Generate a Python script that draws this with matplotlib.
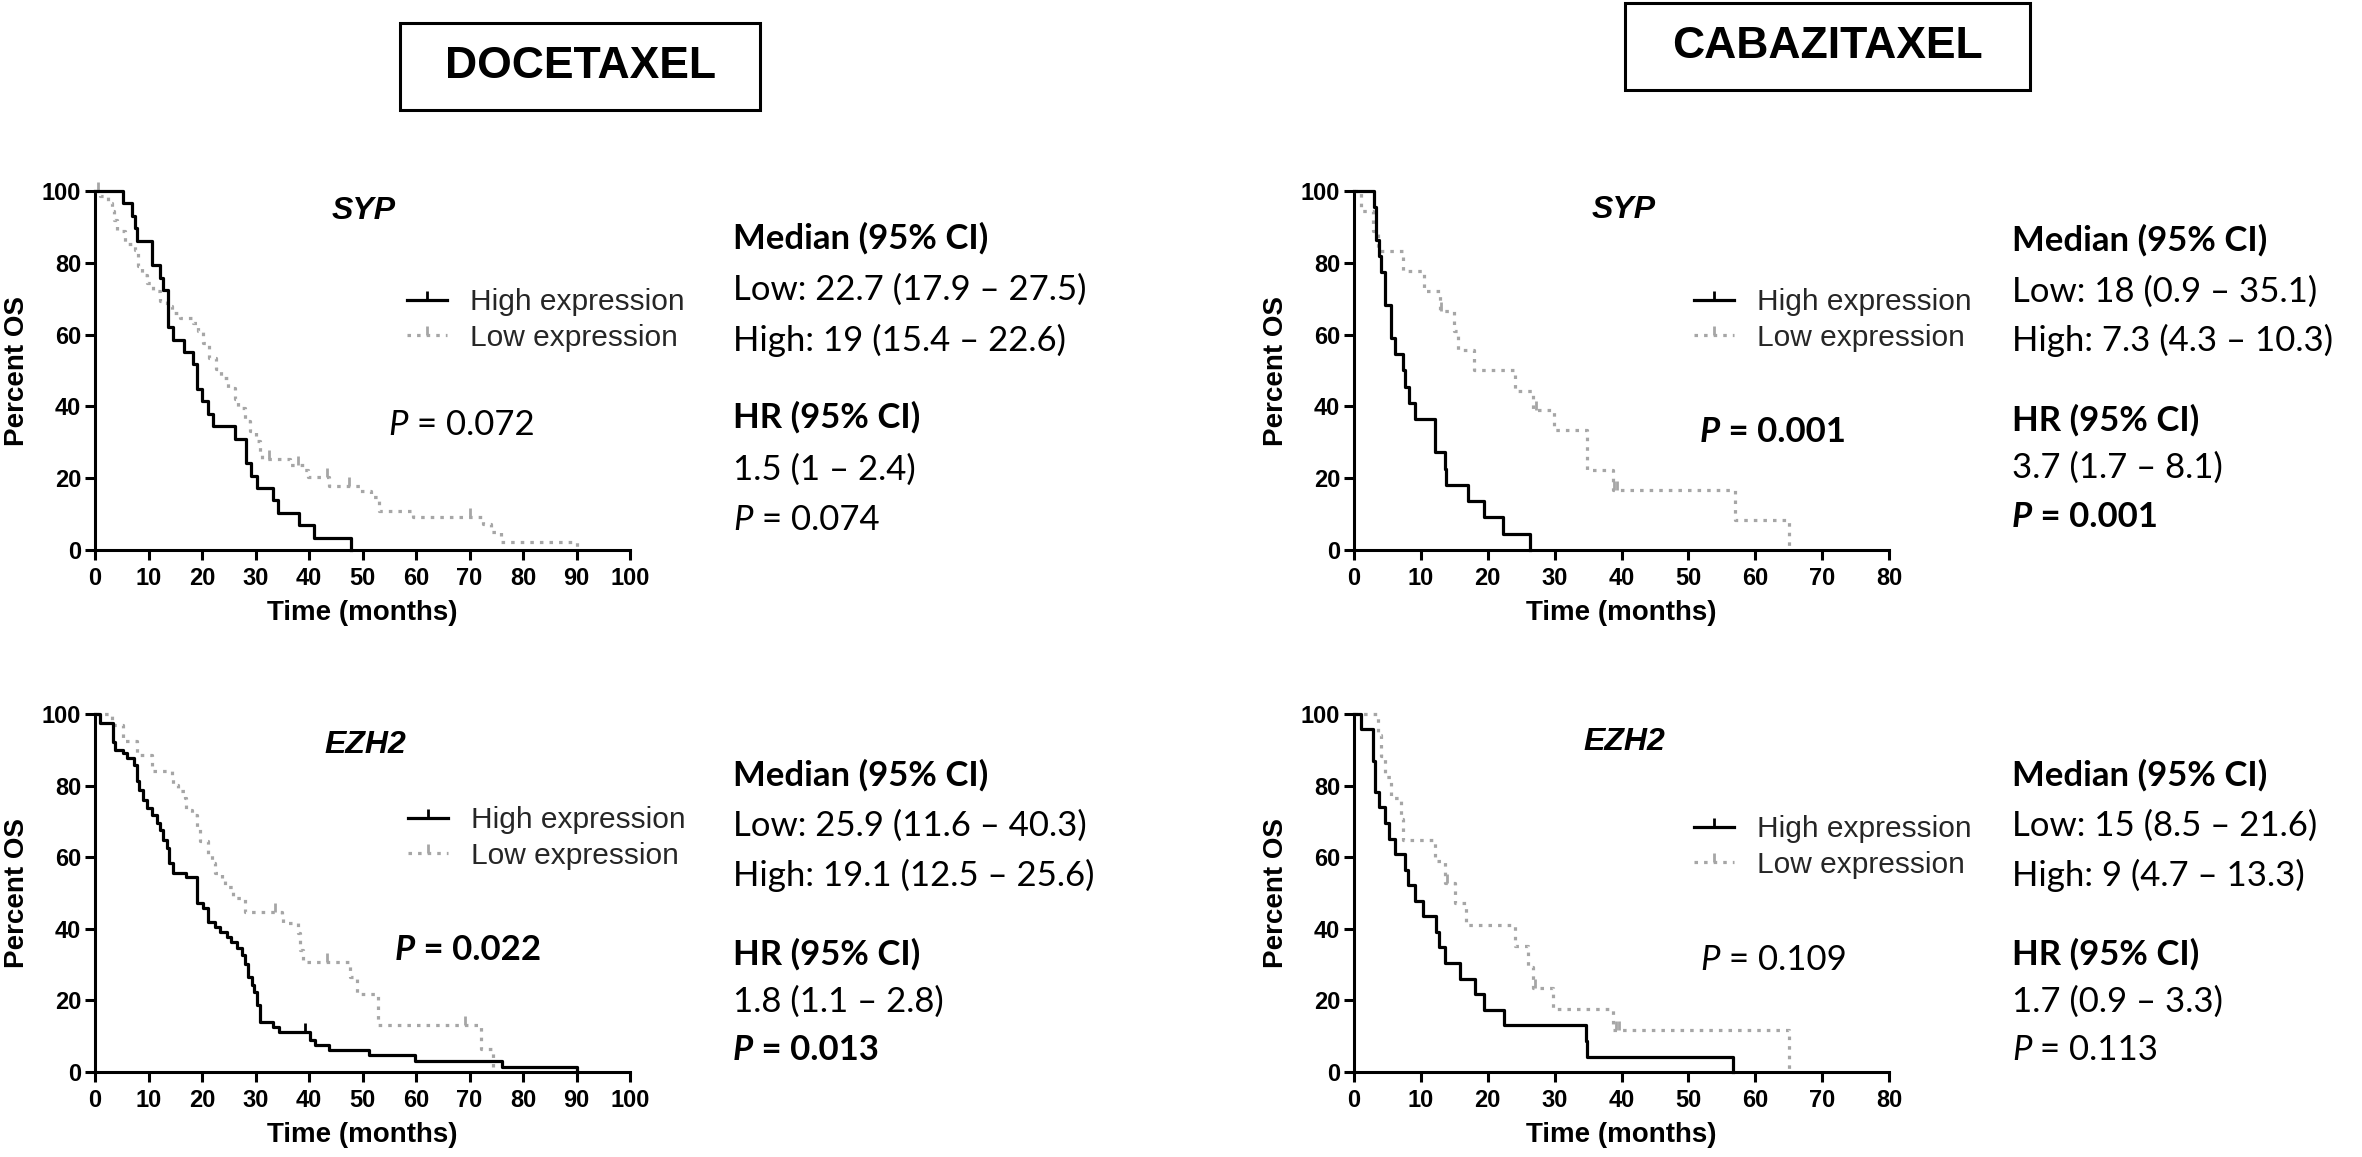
import numpy as np
import matplotlib
matplotlib.use("Agg")
import matplotlib.pyplot as plt
from matplotlib.path import Path
from matplotlib.lines import Line2D
from matplotlib.patches import Rectangle
from matplotlib.text import Annotation

# ---------------- data ----------------
# Docetaxel, SYP
doc_syp_high_t = [0, 5.3, 7.0, 7.5, 7.8, 10.7, 12.2, 12.8, 13.6, 14.6, 16.7, 18.3, 19.0, 20.0, 21.2,
                  22.1, 26.2, 28.2, 29.2, 30.3, 33.3, 34.2, 38.2, 41.0, 47.8]
doc_syp_high_s = [100, 96.6, 93.1, 89.7, 86.2, 79.3, 75.9, 72.4, 62.1, 58.6, 55.2, 51.7, 44.8, 41.4, 37.9,
                  34.5, 31.0, 24.1, 20.7, 17.2, 13.8, 10.3, 6.9, 3.4, 0]
doc_syp_high_c = []
doc_syp_low_t = [0, 1.0, 2.5, 3.2, 3.6, 4.1, 5.6, 7.5, 8.1, 8.7, 9.7, 10.9, 12.2, 13.4, 14.3, 15.9, 18.4,
                 19.3, 20.2, 21.3, 22.6, 23.5, 24.9, 26.1, 26.8, 28.1, 29.0, 30.0, 30.8, 31.2, 36.5, 39.0,
                 39.8, 43.8, 49.5, 51.5, 53.0, 59.5, 72.5, 74.0, 75.8, 90.0]
doc_syp_low_s = [100, 98.6, 96.7, 94.5, 92.0, 88.8, 85.1, 83.7, 79.0, 76.7, 74.4, 72.1, 69.3, 67.9, 66.0,
                 64.6, 63.3, 60.9, 57.7, 53.5, 50.5, 48.0, 45.0, 42.0, 39.5, 36.0, 33.2, 30.4, 26.7, 25.3,
                 23.8, 22.3, 20.2, 17.9, 16.5, 14.7, 10.9, 9.1, 7.2, 4.9, 2.1, 0]
doc_syp_low_c = [0.6, 32.5, 38.0, 43.3, 47.5, 70.0]

# Cabazitaxel, SYP
cab_syp_high_t = [0, 3.0, 3.3, 3.7, 4.1, 4.6, 5.6, 6.2, 7.3, 7.7, 8.2, 9.1, 12.1, 13.6, 13.8, 17.1, 19.5,
                  22.3, 26.3]
cab_syp_high_s = [100, 95.5, 86.4, 81.8, 77.3, 68.2, 59.1, 54.5, 50.0, 45.5, 40.9, 36.4, 27.3, 22.7, 18.2,
                  13.6, 9.1, 4.5, 0]
cab_syp_high_c = []
cab_syp_low_t = [0, 1.1, 2.9, 3.6, 7.3, 10.5, 12.8, 14.9, 15.6, 17.9, 24.1, 26.8, 29.9, 34.9, 38.8, 56.9, 65.0]
cab_syp_low_s = [100, 94.4, 88.9, 83.3, 77.8, 72.2, 66.7, 61.1, 55.6, 50.0, 44.4, 38.9, 33.3, 22.2, 16.7, 8.3, 0]
cab_syp_low_c = [13.0, 27.2, 38.9, 39.3]

# Docetaxel, EZH2
doc_ezh_high_t = [0, 0.9, 3.4, 3.7, 5.3, 5.9, 7.2, 7.8, 8.3, 9.0, 9.7, 10.6, 11.5, 12.1, 12.8, 13.4, 13.9,
                  14.5, 17.1, 19.0, 19.1, 20.2, 21.2, 22.4, 23.3, 24.6, 25.5, 26.5, 27.4, 28.0, 28.6, 29.3,
                  29.7, 30.2, 30.8, 33.2, 34.4, 40.2, 41.1, 43.8, 51.2, 59.8, 76.0, 90.0]
doc_ezh_high_s = [100, 97.5, 92.1, 90.0, 89.1, 87.7, 85.8, 81.2, 78.8, 76.0, 73.7, 71.8, 69.5, 67.6, 64.8,
                  62.5, 58.3, 55.5, 54.6, 51.8, 47.1, 45.7, 42.0, 40.6, 39.2, 37.8, 36.4, 34.5, 32.6, 30.3,
                  26.6, 24.3, 22.4, 18.7, 14.0, 12.6, 11.2, 8.9, 7.5, 6.1, 4.7, 3.1, 1.4, 0]
doc_ezh_high_c = [39.2]
doc_ezh_low_t = [0, 3.1, 5.3, 7.8, 10.6, 14.3, 14.6, 15.6, 16.8, 17.1, 18.1, 19.0, 19.6, 21.2, 21.8, 22.4,
                 23.7, 24.3, 25.8, 28.0, 34.9, 35.2, 38.0, 38.3, 38.9, 47.6, 48.9, 52.9, 72.2, 74.4]
doc_ezh_low_s = [100, 97.0, 92.4, 88.6, 84.0, 82.1, 80.2, 78.4, 76.5, 73.2, 71.8, 68.1, 64.4, 60.6, 58.3,
                 55.5, 53.6, 51.8, 48.5, 44.8, 42.9, 41.5, 38.7, 34.0, 30.8, 26.6, 21.9, 13.1, 6.5, 0]
doc_ezh_low_c = [33.6, 43.3, 69.1]

# Cabazitaxel, EZH2
cab_ezh_high_t = [0, 1.0, 2.8, 3.2, 3.7, 4.6, 5.3, 6.1, 7.7, 8.1, 9.1, 10.3, 12.2, 12.7, 13.6, 15.8, 18.1,
                  19.4, 22.5, 34.7, 34.9, 56.7]
cab_ezh_high_s = [100, 95.7, 87.0, 78.3, 73.9, 69.6, 65.2, 60.9, 56.5, 52.2, 47.8, 43.5, 39.1, 34.8, 30.4,
                  26.1, 21.7, 17.4, 13.0, 8.7, 4.3, 0]
cab_ezh_high_c = []
cab_ezh_low_t = [0, 3.6, 4.0, 4.6, 5.6, 7.0, 7.3, 12.1, 13.6, 15.1, 16.8, 24.1, 26.0, 26.8, 29.8, 38.8, 65.0]
cab_ezh_low_s = [100, 94.1, 88.2, 82.4, 76.5, 70.6, 64.7, 58.8, 52.9, 47.1, 41.2, 35.3, 29.4, 23.5, 17.6, 11.8, 0]
cab_ezh_low_c = [13.9, 27.0, 39.2, 39.7]

# texts
drugs = ['DOCETAXEL', 'CABAZITAXEL']
genes = ['SYP', 'SYP', 'EZH2', 'EZH2']
series_labels = ['High expression', 'Low expression']
x_label = 'Time (months)'
y_label = 'Percent OS'
logrank_p = ['0.072', '0.001', '0.022', '0.109']
logrank_bold = [False, True, True, False]
median_low = ['Low: 22.7 (17.9 \u2013 27.5)', 'Low: 18 (0.9 \u2013 35.1)',
              'Low: 25.9 (11.6 \u2013 40.3)', 'Low: 15 (8.5 \u2013 21.6)']
median_high = ['High: 19 (15.4 \u2013 22.6)', 'High: 7.3 (4.3 \u2013 10.3)',
               'High: 19.1 (12.5 \u2013 25.6)', 'High: 9 (4.7 \u2013 13.3)']
hr_ci = ['1.5 (1 \u2013 2.4)', '3.7 (1.7 \u2013 8.1)', '1.8 (1.1 \u2013 2.8)', '1.7 (0.9 \u2013 3.3)']
hr_p = ['0.074', '0.001', '0.013', '0.113']
hr_p_bold = [False, True, True, False]
x_max = [100, 80, 100, 80]

# ---------------- figure ----------------
W, H, DPI = 2362, 1157, 100
plt.rcParams['font.family'] = ['Liberation Sans', 'DejaVu Sans']
plt.rcParams['font.weight'] = 'bold'
fig = plt.figure(figsize=(W / DPI, H / DPI), dpi=DPI)
fig.patch.set_facecolor('white')

BLACK = '#000000'
GREY = '#a6a6a6'
TXF = ['Lato', 'DejaVu Sans']
TICK = Path([(0, 0), (0, 1)])


def fx(px):
    return px / W


def fy(py):
    return 1 - py / H


def km(ax, t, s, cens, color, ls, z):
    t = np.asarray(t, float)
    s = np.asarray(s, float)
    ax.step(t, s, where='post', color=color, lw=2.3, ls=ls, clip_on=False, zorder=z)
    if len(cens):
        c = np.asarray(cens, float)
        idx = np.searchsorted(t, c, side='right') - 1
        ax.plot(c, s[idx], ls='none', marker=TICK, ms=13, mew=2.0, mec=color,
                clip_on=False, zorder=z)


def p_text(x, y, value, bold, size=25):
    w = 'bold' if bold else 'normal'
    t1 = fig.text(fx(x), fy(y), 'P', family=TXF, style='italic', weight=w, fontsize=size,
                  va='center', ha='left')
    ann = Annotation(' = ' + value, xy=(1, 0), xycoords=t1, va='bottom', ha='left',
                     family=TXF, weight=w, fontsize=size)
    fig.add_artist(ann)


# panel geometry (pixels)
AXW = 535
panel_x0 = [95, 1354, 95, 1354]
panel_top = [191, 191, 714, 714]
panel_bot = [550, 550, 1072, 1072]
legend_anchor = [(407, 320), (1694, 320), (408, 838), (1694, 847)]
gene_pos = [(364, 211), (1624, 210), (365, 745), (1624, 742)]
p_pos = [(388, 425), (1700, 432), (395, 950), (1700, 960)]
block_x = [733, 2012, 733, 2012]
block_y = [(238, 290, 340, 417, 470, 520), (240, 292, 340, 420, 468, 517),
           (775, 826, 875, 954, 1002, 1050), (775, 826, 875, 954, 1002, 1050)]

curves = [
    (doc_syp_high_t, doc_syp_high_s, doc_syp_high_c, doc_syp_low_t, doc_syp_low_s, doc_syp_low_c),
    (cab_syp_high_t, cab_syp_high_s, cab_syp_high_c, cab_syp_low_t, cab_syp_low_s, cab_syp_low_c),
    (doc_ezh_high_t, doc_ezh_high_s, doc_ezh_high_c, doc_ezh_low_t, doc_ezh_low_s, doc_ezh_low_c),
    (cab_ezh_high_t, cab_ezh_high_s, cab_ezh_high_c, cab_ezh_low_t, cab_ezh_low_s, cab_ezh_low_c),
]

GREY_LS = (0, (1.1, 1.9))

for i in range(4):
    x0, yt, yb, xm = panel_x0[i], panel_top[i], panel_bot[i], x_max[i]
    ax = fig.add_axes([fx(x0), fy(yb), AXW / W, (yb - yt) / H])
    ax.set_facecolor('none')
    ax.set_xlim(0, xm)
    ax.set_ylim(0, 100)
    ax.set_xticks(np.arange(0, xm + 1, 10))
    ax.set_yticks(np.arange(0, 101, 20))
    for sp in ('top', 'right'):
        ax.spines[sp].set_visible(False)
    for sp in ('left', 'bottom'):
        ax.spines[sp].set_linewidth(2.2)
    ax.tick_params(width=2.2, length=7, direction='out', labelsize=17, pad=3, colors=BLACK)
    ax.tick_params(axis='x', pad=5)
    ax.set_xlabel(x_label, fontsize=20, fontweight='bold')
    ax.set_ylabel(y_label, fontsize=20, fontweight='bold')
    ax.xaxis.set_label_coords(0.5, -0.14)
    ax.yaxis.set_label_coords(-0.121, 0.5)

    ht, hs, hc, lt, ls_, lc = curves[i]
    km(ax, lt, ls_, lc, GREY, GREY_LS, 3)
    km(ax, ht, hs, hc, BLACK, '-', 4)

    handles = [Line2D([], [], color=BLACK, lw=2.3, marker=TICK, ms=13, mew=2.0, mec=BLACK),
               Line2D([], [], color=GREY, lw=2.3, ls=GREY_LS, marker=TICK, ms=13, mew=2.0, mec=GREY)]
    lx, ly = legend_anchor[i]
    leg = ax.legend(handles, series_labels, loc='center left',
                    bbox_to_anchor=(fx(lx), fy(ly)), bbox_transform=fig.transFigure,
                    frameon=False, borderpad=0, borderaxespad=0, numpoints=1,
                    handlelength=1.34, handletextpad=0.77, labelspacing=0.25,
                    prop={'family': 'Liberation Sans', 'weight': 'normal', 'size': 21.5})
    for txt in leg.get_texts():
        txt.set_color('#262626')

    gx, gy = gene_pos[i]
    fig.text(fx(gx), fy(gy), genes[i], fontsize=23, fontweight='bold', style='italic',
             ha='center', va='center')

    px, py = p_pos[i]
    p_text(px, py, logrank_p[i], logrank_bold[i])

    bx = block_x[i]
    ym, yl, yh, yhr, yv, yp = block_y[i]
    fig.text(fx(bx), fy(ym), 'Median (95% CI)', family=TXF, weight='bold', fontsize=25, va='center')
    fig.text(fx(bx), fy(yl), median_low[i], family=TXF, weight='normal', fontsize=25, va='center')
    fig.text(fx(bx), fy(yh), median_high[i], family=TXF, weight='normal', fontsize=25, va='center')
    fig.text(fx(bx), fy(yhr), 'HR (95% CI)', family=TXF, weight='bold', fontsize=25, va='center')
    fig.text(fx(bx), fy(yv), hr_ci[i], family=TXF, weight='normal', fontsize=25, va='center')
    p_text(bx, yp, hr_p[i], hr_p_bold[i])

# header boxes
boxes = [(400, 23, 760, 110), (1625, 3, 2030, 90)]
for name, (bx0, by0, bx1, by1) in zip(drugs, boxes):
    fig.add_artist(Rectangle((fx(bx0), fy(by1)), (bx1 - bx0) / W, (by1 - by0) / H,
                             transform=fig.transFigure, fill=False, lw=2.2, ec=BLACK))
    fig.text(fx((bx0 + bx1) / 2), fy((by0 + by1) / 2), name, fontsize=32, fontweight='bold',
             ha='center', va='center')

fig.savefig('out.png', dpi=DPI, facecolor='white')
